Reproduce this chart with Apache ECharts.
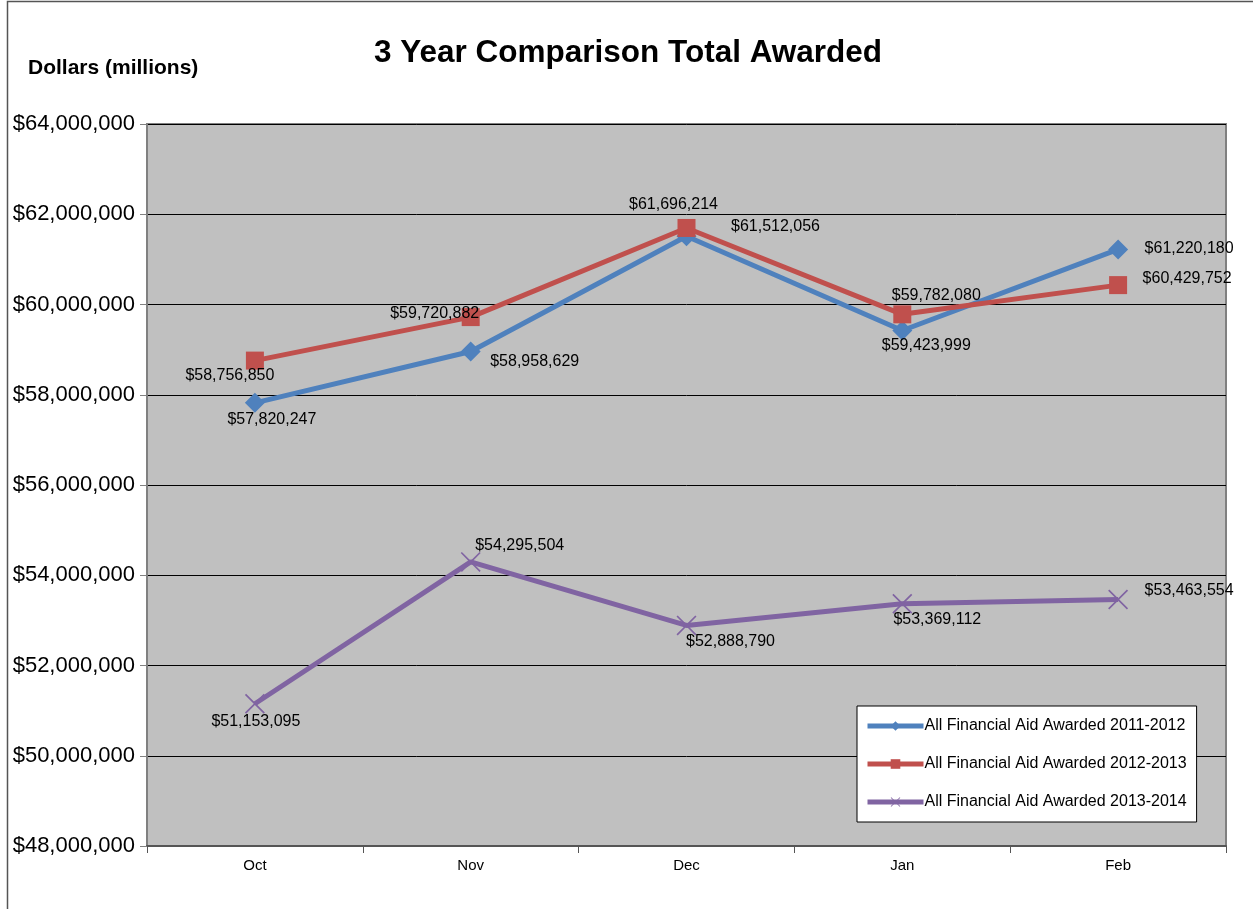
<!DOCTYPE html>
<html>
<head>
<meta charset="utf-8">
<script src="https://cdn.jsdelivr.net/npm/echarts@6/dist/echarts.min.js"></script>
<style>
html,body{margin:0;padding:0;background:#fff;}
#c{width:1253px;height:909px;}
</style>
</head>
<body>
<div id="c"></div>
<script>
const categories = ['Oct', 'Nov', 'Dec', 'Jan', 'Feb'];
const seriesNames = ['All Financial Aid Awarded 2011-2012', 'All Financial Aid Awarded 2012-2013', 'All Financial Aid Awarded 2013-2014'];
const aid2011 = [57820247, 58958629, 61512056, 59423999, 61220180];
const aid2012 = [58756850, 59720882, 61696214, 59782080, 60429752];
const aid2013 = [51153095, 54295504, 52888790, 53369112, 53463554];

// label offsets (pixels) relative to each point
const off2011 = [[17, 17], [64, 10], [89, -10], [24, 15], [71, -1]];
const off2012 = [[-25, 15], [-36, -4], [-13, -23], [34, -19], [69, -7]];
const off2013 = [[1, 18], [49, -16], [44, 16], [35, 16], [71, -9]];

const FONT = '"Liberation Sans", Arial, sans-serif';
const fmt = v => '$' + v.toLocaleString('en-US');

function mkData(vals, offs) {
  return vals.map((v, i) => ({
    value: v,
    label: { offset: offs[i] }
  }));
}
const xPath = 'path://M0,1.2 L1.2,0 L10,8.8 L18.8,0 L20,1.2 L11.2,10 L20,18.8 L18.8,20 L10,11.2 L1.2,20 L0,18.8 L8.8,10 Z';

function mkSeries(name, vals, offs, color, symbol, size) {
  return {
    name: name,
    type: 'line',
    data: mkData(vals, offs),
    symbol: symbol,
    symbolSize: size,
    showAllSymbol: true,
    lineStyle: { color: color, width: 5 },
    itemStyle: { color: color },
    label: {
      show: true,
      position: 'inside',
      align: 'center',
      verticalAlign: 'middle',
      color: '#000',
      fontSize: 16,
      fontFamily: FONT,
      formatter: p => fmt(p.value)
    },
    emphasis: { disabled: true },
    animation: false
  };
}

const chart = echarts.init(document.getElementById('c'), null, { renderer: 'canvas' });
chart.setOption({
  animation: false,
  backgroundColor: '#fff',
  textStyle: { fontFamily: FONT },
  title: {
    text: '3 Year Comparison Total Awarded',
    left: 623,
    textAlign: 'center',
    top: 32,
    textStyle: { fontSize: 31.5, fontWeight: 'bold', color: '#000', fontFamily: FONT }
  },
  graphic: [
    { type: 'rect', shape: { x: 7.5, y: 1.5, width: 1250, height: 920 }, style: { fill: 'none', stroke: '#555', lineWidth: 1.5 }, silent: true, z: -1 },
    { type: 'text', left: 28, top: 58, style: { text: 'Dollars (millions)', font: 'bold 21px ' + FONT, fill: '#000' } }
  ],
  legend: {
    orient: 'vertical',
    left: 857,
    top: 706,
    width: 339,
    padding: [12, 10, 12, 8],
    itemGap: 22,
    itemWidth: 56,
    itemHeight: 12,
    backgroundColor: '#fff',
    borderColor: '#000',
    borderWidth: 1,
    lineStyle: { width: 5 },
    textStyle: { fontSize: 16, color: '#000', fontFamily: FONT, padding: [0, 0, 0, -4] },
    data: seriesNames
  },
  grid: {
    left: 147, right: 27, top: 124, bottom: 63,
    show: true,
    backgroundColor: '#C0C0C0',
    borderColor: '#808080',
    borderWidth: 2
  },
  xAxis: {
    type: 'category',
    data: categories,
    boundaryGap: true,
    axisLine: { lineStyle: { color: '#555', width: 2 } },
    axisTick: { show: true, length: 7, lineStyle: { color: '#555' } },
    axisLabel: { color: '#000', fontSize: 15, margin: 12, fontFamily: FONT }
  },
  yAxis: {
    type: 'value',
    min: 48000000,
    max: 64000000,
    interval: 2000000,
    axisLine: { show: true, lineStyle: { color: '#808080', width: 2 } },
    axisTick: { show: true, length: 7, lineStyle: { color: '#808080' } },
    axisLabel: { color: '#000', fontSize: 22, margin: 12, fontFamily: FONT, formatter: v => fmt(v) },
    splitLine: { show: true, lineStyle: { color: '#000', width: 1 } }
  },
  series: [
    mkSeries(seriesNames[0], aid2011, off2011, '#4F81BD', 'diamond', 20),
    mkSeries(seriesNames[1], aid2012, off2012, '#C0504D', 'rect', 18),
    mkSeries(seriesNames[2], aid2013, off2013, '#8064A2', xPath, 20)
  ]
});
</script>
</body>
</html>
